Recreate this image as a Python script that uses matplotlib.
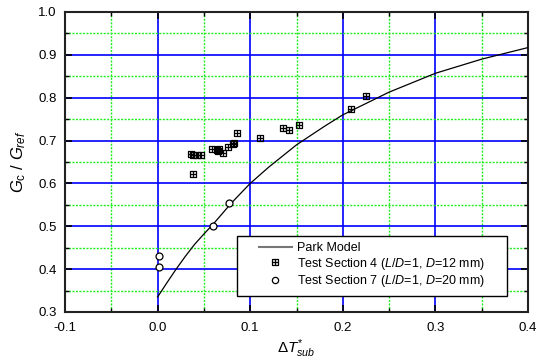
import matplotlib
matplotlib.use("Agg")
import matplotlib.pyplot as plt
from matplotlib.ticker import MultipleLocator, FormatStrFormatter
from matplotlib.path import Path
from matplotlib.patches import Rectangle

plt.rcParams['font.family'] = ['Liberation Sans', 'DejaVu Sans']
plt.rcParams['mathtext.fontset'] = 'custom'
plt.rcParams['mathtext.rm'] = 'Liberation Sans'
plt.rcParams['mathtext.it'] = 'Liberation Sans:italic'
plt.rcParams['mathtext.bf'] = 'Liberation Sans:bold'

# Park model curve
park_x = [0.0, 0.01, 0.02, 0.03, 0.04, 0.05, 0.06, 0.08, 0.10, 0.12, 0.15,
          0.18, 0.20, 0.25, 0.30, 0.35, 0.40]
park_y = [0.335, 0.368, 0.400, 0.430, 0.458, 0.482, 0.505, 0.555, 0.600, 0.638,
          0.690, 0.733, 0.760, 0.813, 0.857, 0.890, 0.917]

# Test Section 4 (L/D=1, D=12 mm)
ts4_x = [0.0364, 0.0386, 0.0429, 0.0472, 0.0386, 0.0587, 0.0638, 0.0667, 0.0650,
         0.0710, 0.0760, 0.0810, 0.0825, 0.0854, 0.1110, 0.1350, 0.1416, 0.1530,
         0.2085, 0.2250]
ts4_y = [0.669, 0.666, 0.666, 0.666, 0.621, 0.681, 0.678, 0.681, 0.675,
         0.670, 0.686, 0.692, 0.695, 0.717, 0.707, 0.729, 0.725, 0.736,
         0.773, 0.804]

# Test Section 7 (L/D=1, D=20 mm)
ts7_x = [0.0019, 0.0012, 0.0595, 0.0774]
ts7_y = [0.431, 0.404, 0.501, 0.554]

# square-with-cross marker
sq_verts = [(-1, -1), (1, -1), (1, 1), (-1, 1), (-1, -1),
            (0, -1), (0, 1), (-1, 0), (1, 0)]
sq_codes = [Path.MOVETO, Path.LINETO, Path.LINETO, Path.LINETO, Path.CLOSEPOLY,
            Path.MOVETO, Path.LINETO, Path.MOVETO, Path.LINETO]
sq_marker = Path(sq_verts, sq_codes)

fig = plt.figure(figsize=(5.39, 3.63), dpi=100)
ax = fig.add_axes([65/539, 1-312/363, (528-65)/539, (312-12)/363])

ax.set_xlim(-0.1, 0.4)
ax.set_ylim(0.3, 1.0)
ax.xaxis.set_major_locator(MultipleLocator(0.1))
ax.xaxis.set_minor_locator(MultipleLocator(0.05))
ax.yaxis.set_major_locator(MultipleLocator(0.1))
ax.yaxis.set_minor_locator(MultipleLocator(0.05))
ax.xaxis.set_major_formatter(FormatStrFormatter('%.1f'))
ax.yaxis.set_major_formatter(FormatStrFormatter('%.1f'))

ax.grid(which='minor', color='#22ee22', linestyle=(0, (1.5, 1)), linewidth=1.0, zorder=0)
ax.grid(which='major', color='#0000ff', linestyle='-', linewidth=1.2, zorder=0.5)
ax.set_axisbelow(True)

ax.tick_params(which='both', direction='in', top=True, right=True, labelsize=9.5,
               colors='black')
ax.tick_params(axis='x', which='major', pad=7)
ax.tick_params(axis='y', which='major', pad=6)
ax.tick_params(which='major', length=5, width=1.2)
ax.tick_params(which='minor', length=3, width=1.0)
for s in ax.spines.values():
    s.set_linewidth(1.5)
    s.set_color('#222222')

ax.plot(park_x, park_y, color='black', lw=0.9, label='Park Model', zorder=3)
ax.plot(ts4_x, ts4_y, linestyle='none', marker=sq_marker, markersize=5,
        markerfacecolor='none', markeredgecolor='black', markeredgewidth=0.9,
        label='Test Section 4 ($\\it{L/D}$=1, $\\it{D}$=12 mm)', zorder=4)
ax.plot(ts7_x, ts7_y, linestyle='none', marker='o', markersize=5,
        markerfacecolor='white', markeredgecolor='black', markeredgewidth=0.9,
        label='Test Section 7 ($\\it{L/D}$=1, $\\it{D}$=20 mm)', zorder=4)

# legend frame
x0, x1 = (237-65)/463, (507-65)/463
y0, y1 = (312-296)/300, (312-235.7)/300
ax.add_patch(Rectangle((x0, y0), x1-x0, y1-y0, transform=ax.transAxes,
                       facecolor='white', edgecolor='black', lw=1.0, zorder=5))
leg = ax.legend(loc='center', bbox_to_anchor=((x0+x1)/2, (y0+y1)/2),
                frameon=False, fontsize=9, markerscale=0.9,
                handlelength=2.6, handletextpad=0.4, borderpad=0.3,
                labelspacing=0.12)
leg.set_zorder(6)
leg.get_lines()[0].set_color('#777777')
leg.get_lines()[0].set_linewidth(1.5)

ax.set_xlabel(r'$\Delta T^{*}_{sub}$', fontsize=11, labelpad=3)
ax.set_ylabel(r'$G_{\mathrm{c}}$ / $G_{ref}$', fontsize=12, labelpad=7)

fig.savefig('out.png', dpi=100)
